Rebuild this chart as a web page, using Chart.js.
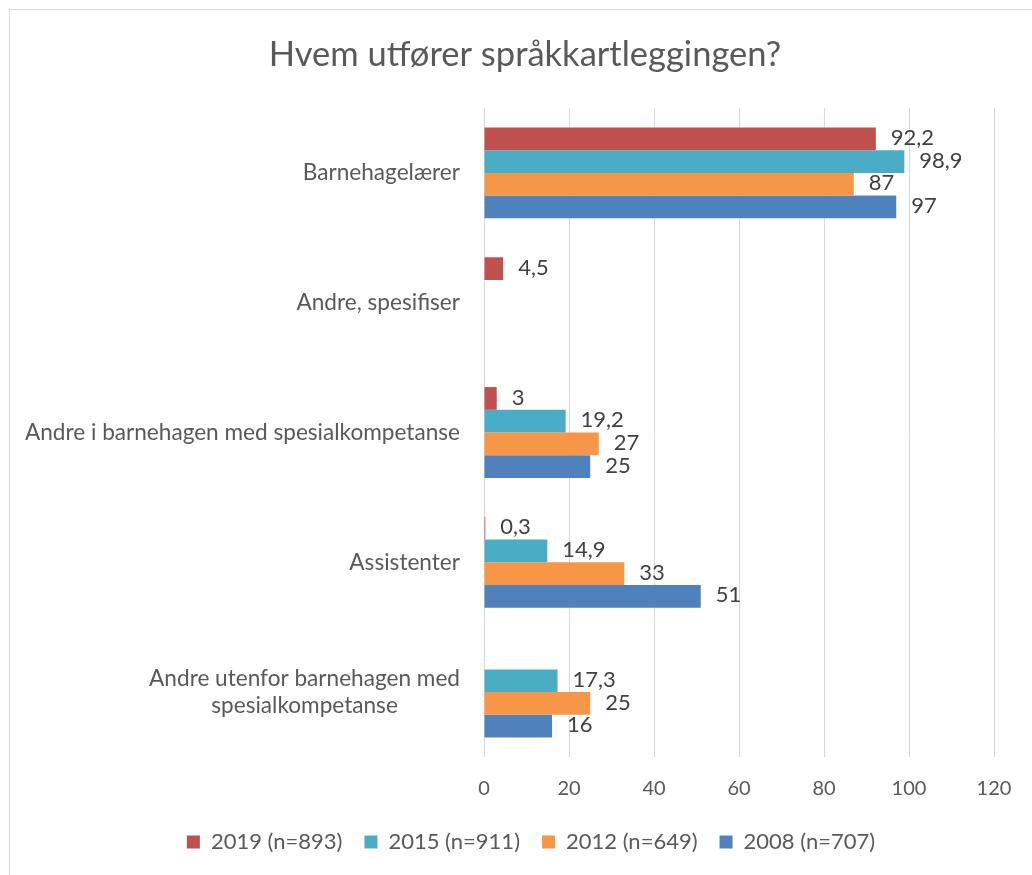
<!DOCTYPE html>
<html>
<head>
<meta charset="utf-8">
<script src="https://cdn.jsdelivr.net/npm/chart.js@4"></script>
<style>
  body { margin: 0; background: #fff; }
  #wrap { position: relative; width: 1032px; height: 875px; }
</style>
</head>
<body>
<div id="wrap"><canvas id="chart"></canvas></div>
<script>
const title = 'Hvem utfører språkkartleggingen?';
const categories = [
    'Barnehagelærer',
    'Andre, spesifiser',
    'Andre i barnehagen med spesialkompetanse',
    'Assistenter',
    ['Andre utenfor barnehagen med', 'spesialkompetanse']
];
const seriesNames = ['2019 (n=893)', '2015 (n=911)', '2012 (n=649)', '2008 (n=707)'];
const values2019 = [92.2, 4.5, 3, 0.3, null];
const values2015 = [98.9, null, 19.2, 14.9, 17.3];
const values2012 = [87, null, 27, 33, 25];
const values2008 = [97, null, 25, 51, 16];
const xTicks = [0, 20, 40, 60, 80, 100, 120];

const colors = ['#C0504D', '#4BACC6', '#F79646', '#4F81BD'];
const font = 'Lato, "Open Sans", sans-serif';

const datasets = [values2019, values2015, values2012, values2008].map((vals, i) => ({
    label: seriesNames[i],
    data: vals,
    backgroundColor: colors[i],
    borderWidth: 0,
    categoryPercentage: 0.7,
    barPercentage: 1
}));

// frame, title, category labels and value labels
const extras = {
    id: 'extras',
    beforeDraw(chart) {
        const ctx = chart.ctx;
        ctx.save();
        ctx.strokeStyle = '#d9d9d9';
        ctx.lineWidth = 1;
        ctx.strokeRect(9.5, 9.5, 1100, 1000);
        ctx.restore();
    },
    afterDraw(chart) {
        const ctx = chart.ctx;
        const area = chart.chartArea;
        const yScale = chart.scales.y;
        ctx.save();
        ctx.fillStyle = '#595959';
        ctx.font = '34.5px ' + font;
        ctx.textAlign = 'center';
        ctx.textBaseline = 'middle';
        ctx.fillText(title, 525, 55);

        ctx.font = '22.6px ' + font;
        const right = area.left - 24;
        categories.forEach((lab, i) => {
            const lines = Array.isArray(lab) ? lab : [lab];
            const w = Math.max(...lines.map(l => ctx.measureText(l).width));
            const cx = right - w / 2;
            const cy = yScale.getPixelForValue(i);
            const lh = 27;
            lines.forEach((l, j) => {
                ctx.fillText(l, cx, cy + (j - (lines.length - 1) / 2) * lh);
            });
        });

        ctx.font = '22px ' + font;
        ctx.fillStyle = '#404040';
        ctx.textAlign = 'left';
        chart.data.datasets.forEach((ds, di) => {
            const meta = chart.getDatasetMeta(di);
            meta.data.forEach((bar, i) => {
                const v = ds.data[i];
                if (v === null) return;
                const txt = String(v).replace('.', ',');
                ctx.fillText(txt, bar.x + 15, bar.y - 1);
            });
        });
        ctx.restore();
    }
};

new Chart(document.getElementById('chart'), {
    type: 'bar',
    data: { labels: categories, datasets },
    plugins: [extras],
    options: {
        indexAxis: 'y',
        responsive: true,
        maintainAspectRatio: false,
        animation: false,
        layout: { padding: { left: 30, right: 0, top: 108, bottom: 12 } },
        plugins: {
            legend: {
                position: 'bottom',
                labels: {
                    boxWidth: 13,
                    boxHeight: 13,
                    padding: 22,
                    color: '#595959',
                    font: { family: font, size: 22 }
                }
            },
            tooltip: { enabled: false }
        },
        scales: {
            x: {
                min: 0,
                max: 120,
                afterBuildTicks(scale) {
                    scale.ticks = xTicks.map(v => ({ value: v }));
                },
                afterFit(scale) { scale.height = 52; },
                grid: { color: '#d9d9d9', drawTicks: false },
                border: { display: false },
                ticks: {
                    padding: 20,
                    color: '#595959',
                    font: { family: font, size: 20 }
                }
            },
            y: {
                afterFit(scale) { scale.width = 454; },
                grid: { display: false },
                border: { display: false },
                ticks: { display: false }
            },
            y2: {
                axis: 'y',
                position: 'right',
                afterFit(scale) { scale.width = 38; },
                grid: { display: false },
                border: { display: false },
                ticks: { display: false }
            }
        }
    }
});
</script>
</body>
</html>
